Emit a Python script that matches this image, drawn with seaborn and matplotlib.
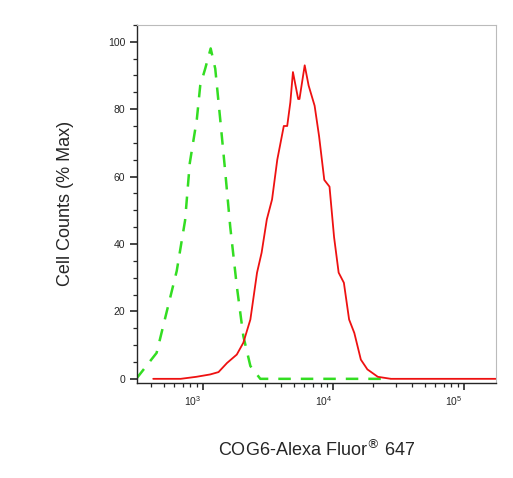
import matplotlib
matplotlib.use("Agg")
import matplotlib.pyplot as plt
import matplotlib.ticker as mticker
import matplotlib.transforms as mtransforms
import numpy as np
import pandas as pd
import seaborn as sns

# log10 fluorescence intensity vs % of max cell counts
control_log = [2.49, 2.646, 2.80, 2.864, 2.90, 2.954, 2.98, 3.018, 3.06, 3.095, 3.133,
               3.17, 3.21, 3.26, 3.31, 3.364, 3.44, 3.7, 4.0, 4.44]
control_pct = [0, 7.7, 32, 47, 64, 77, 87, 92, 98, 92, 77,
               62, 45, 27.5, 12.7, 3.8, 0, 0, 0, 0]

cog6_log = [2.62, 2.83, 2.95, 3.056, 3.12, 3.185, 3.26, 3.31, 3.364, 3.415, 3.45, 3.49,
            3.53, 3.57, 3.62, 3.646, 3.67, 3.69, 3.73, 3.74, 3.78, 3.81, 3.856, 3.89,
            3.93, 3.97, 4.005, 4.04, 4.08, 4.12, 4.16, 4.21, 4.26, 4.34, 4.44, 5.0, 5.26]
cog6_pct = [0, 0, 0.6, 1.3, 2, 4.7, 7.2, 10.7, 17.6, 31.5, 37.4, 47.3,
            53.2, 65, 75, 75, 82, 91, 83, 83, 93, 87, 81, 72,
            59, 57, 42, 31.5, 28.5, 17.6, 13.6, 5.7, 2.8, 0.6, 0, 0, 0]

ctrl = pd.DataFrame({"x": np.power(10.0, control_log), "y": control_pct})
cog6 = pd.DataFrame({"x": np.power(10.0, cog6_log), "y": cog6_pct})

sns.set_style("ticks")
plt.rcParams["font.family"] = ["Liberation Sans", "DejaVu Sans"]

fig = plt.figure(figsize=(5.13, 4.78), dpi=100)
ax = fig.add_axes([0.267, 0.199, 0.700, 0.749])

sns.lineplot(data=ctrl, x="x", y="y", ax=ax, color="#33dd22", lw=1.8,
             linestyle=(0, (5, 4)), estimator=None, sort=False)
sns.lineplot(data=cog6, x="x", y="y", ax=ax, color="#ee1111", lw=1.3,
             estimator=None, sort=False)

ax.set_xscale("log")
ax.set_xlim(313, 176000)
ax.set_ylim(-1.2, 105)
ax.set_yticks([0, 20, 40, 60, 80, 100])
ax.yaxis.set_minor_locator(mticker.MultipleLocator(5))
ax.xaxis.set_major_locator(mticker.FixedLocator([1e3, 1e4, 1e5]))
ax.xaxis.set_minor_locator(mticker.LogLocator(base=10, subs=np.arange(2, 10)))
ax.xaxis.set_minor_formatter(mticker.NullFormatter())
ax.tick_params(axis="both", which="major", length=5, width=1.2, labelsize=7.5)
ax.tick_params(axis="both", which="minor", length=3, width=0.9)

shift = mtransforms.ScaledTranslation(-10 / 100, 0, fig.dpi_scale_trans)
for lbl in ax.get_xticklabels():
    lbl.set_transform(lbl.get_transform() + shift)

for side in ["top", "right"]:
    ax.spines[side].set_color("#bbbbbb")
    ax.spines[side].set_linewidth(0.8)
for side in ["left", "bottom"]:
    ax.spines[side].set_linewidth(1.0)

ax.set_xlabel("COG6-Alexa Fluor$^{\u00ae}$ 647", fontsize=13, labelpad=22)
ax.set_ylabel("Cell Counts (% Max)", fontsize=13, labelpad=24)

fig.savefig("out.png", dpi=100)
